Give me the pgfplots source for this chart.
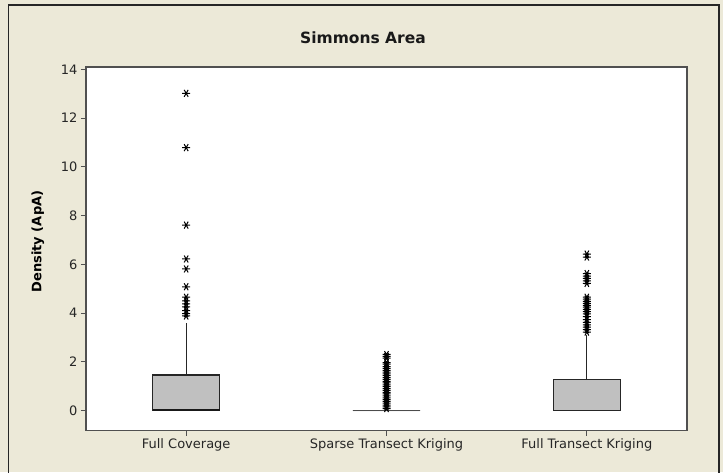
\documentclass[border=0pt]{standalone}
\usepackage{fontspec}
\setmainfont{DejaVu Sans}
\usepackage{pgfplots}
\pgfplotsset{compat=1.18}
\usepgfplotslibrary{statistics}
\definecolor{bg}{HTML}{ECE9D8}
\definecolor{boxgray}{HTML}{C0C0C0}
\definecolor{framec}{HTML}{505050}
\begin{document}
\begin{tikzpicture}
\path[use as bounding box] (0pt,0pt) rectangle (723pt,472pt);
\fill[bg] (0pt,0pt) rectangle (723pt,472pt);
\draw[black!85, line width=1.3pt] (8.5pt,-5pt) -- (8.5pt,467pt) -- (719pt,467pt) -- (719pt,-5pt);
\node[font=\fontsize{15.5}{18}\selectfont\bfseries, text=black!90] at (363pt,434pt) {Simmons Area};
\begin{axis}[
  at={(86pt,41.5pt)}, anchor=south west, scale only axis,
  width=601pt, height=363.5pt,
  xmin=0.5, xmax=3.5, ymin=-0.82, ymax=14.1,
  axis background/.style={fill=white},
  axis line style={framec, line width=1.3pt},
  tick align=outside, xtick pos=left, ytick pos=left,
  major tick length=5pt,
  tick style={framec, line width=0.8pt},
  xtick={1,2,3},
  xticklabels={Full Coverage, Sparse Transect Kriging, Full Transect Kriging},
  ytick={0,2,...,14},
  /pgf/number format/assume math mode=true,
  ticklabel style={font=\fontsize{13}{15}\selectfont, text=black!85},
  every axis y label/.style={at={(axis description cs:-0.08,0.52)}, rotate=90, anchor=center},
  ylabel={\fontsize{13}{15}\selectfont\bfseries Density (ApA)},
  boxplot/draw direction=y,
  boxplot/whisker extend=0,
  boxplot/box extend=0.335,
  clip=false,
]
% Box 1: Full Coverage
\addplot[draw=black!85, line width=1.3pt, fill=boxgray,
  boxplot/draw direction=y,
  boxplot prepared={lower whisker=0, lower quartile=0, median=0.02, upper quartile=1.46, upper whisker=3.59, draw position=1},
  boxplot/every median/.style={line width=2.4pt, black!90}] coordinates {};
% Box 2: Sparse Transect Kriging
\addplot[draw=black!70, line width=1.3pt, fill=boxgray,
  boxplot/draw direction=y,
  boxplot prepared={lower whisker=0, lower quartile=0, median=0, upper quartile=0, upper whisker=0, draw position=2}] coordinates {};
% Box 3: Full Transect Kriging
\addplot[draw=black!85, line width=1.3pt, fill=boxgray,
  boxplot/draw direction=y,
  boxplot prepared={lower whisker=0, lower quartile=0, median=0, upper quartile=1.28, upper whisker=3.1, draw position=3}] coordinates {};
% outliers
\addplot[only marks, mark=asterisk, mark size=4pt, mark options={rotate=90, line width=1pt, black}] coordinates {
 (1,13.02) (1,10.79) (1,7.61) (1,6.22) (1,5.81) (1,5.08)
 (1,4.65) (1,4.5) (1,4.38) (1,4.25) (1,4.1) (1,3.98) (1,3.88)
};
\addplot[only marks, mark=asterisk, mark size=4pt, mark options={rotate=90, line width=1pt, black}] coordinates {
 (2,0.08) (2,0.15) (2,0.22) (2,0.3) (2,0.38) (2,0.45) (2,0.52) (2,0.6) (2,0.68) (2,0.75)
 (2,0.83) (2,0.9) (2,0.98) (2,1.05) (2,1.13) (2,1.2) (2,1.28) (2,1.35) (2,1.43) (2,1.5)
 (2,1.58) (2,1.65) (2,1.73) (2,1.8) (2,1.9) (2,1.97) (2,2.15) (2,2.22) (2,2.3)
};
\addplot[only marks, mark=asterisk, mark size=4pt, mark options={rotate=90, line width=1pt, black}] coordinates {
 (3,6.42) (3,6.3) (3,5.62) (3,5.52) (3,5.42) (3,5.32) (3,5.22)
 (3,4.65) (3,4.57) (3,4.48) (3,4.4) (3,4.32) (3,4.24) (3,4.15) (3,4.06) (3,3.97)
 (3,3.85) (3,3.73) (3,3.62) (3,3.52) (3,3.42) (3,3.32) (3,3.22)
};
\end{axis}
\end{tikzpicture}
\end{document}
